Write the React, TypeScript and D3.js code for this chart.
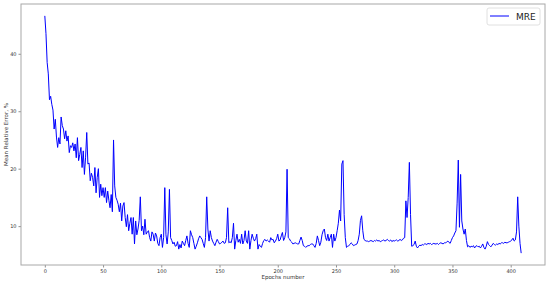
import React, { useEffect, useRef } from "react";
import * as d3 from "d3";

const mreValues: number[] = [
  // 0-9
  46.6, 43.5, 38.5, 36.5, 32.0, 32.6, 31.2, 30.2, 26.9, 28.6,
  // 10-19
  25.5, 23.7, 25.4, 24.3, 29.0, 27.5, 26.9, 25.2, 26.6, 24.8,
  // 20-29
  25.7, 22.8, 24.0, 23.7, 24.5, 23.1, 24.3, 21.9, 25.4, 21.4,
  // 30-39
  22.5, 23.7, 20.2, 23.1, 19.0, 22.0, 26.3, 20.8, 21.0, 17.9,
  // 40-49
  19.2, 18.5, 17.0, 20.2, 15.8, 18.5, 20.0, 15.0, 17.3, 15.3,
  // 50-59
  16.7, 15.0, 16.7, 14.1, 16.1, 14.5, 13.2, 15.5, 12.5, 25.0,
  // 60-69
  17.0, 15.0, 14.5, 13.8, 12.5, 14.0, 10.9, 13.5, 14.1, 11.5,
  // 70-79
  9.9, 12.0, 9.2, 10.5, 11.5, 8.6, 11.5, 6.9, 10.9, 8.5,
  // 80-89
  9.5, 11.0, 15.1, 9.2, 10.0, 8.5, 11.2, 8.6, 9.0, 9.2,
  // 90-99
  8.0, 7.4, 9.0, 8.6, 7.4, 8.8, 8.3, 7.0, 6.6, 8.0,
  // 100-109
  8.6, 6.3, 8.0, 16.7, 8.5, 6.9, 9.0, 16.4, 8.0, 7.5,
  // 110-119
  6.9, 7.2, 6.5, 6.6, 7.3, 6.0, 6.8, 6.2, 7.4, 7.0,
  // 120-129
  6.6, 7.5, 8.3, 7.0, 6.3, 9.2, 8.5, 8.0, 7.0, 6.0,
  // 130-139
  6.5, 7.1, 7.8, 8.3, 8.0, 7.7, 7.0, 6.3, 8.0, 15.1,
  // 140-149
  9.5, 7.4, 9.2, 8.0, 7.4, 7.0, 6.6, 7.2, 7.7, 7.3,
  // 150-159
  6.9, 7.0, 7.2, 7.4, 7.0, 7.1, 8.0, 13.2, 7.1, 7.3,
  // 160-169
  7.1, 8.0, 10.5, 6.0, 7.5, 8.6, 7.2, 7.7, 7.0, 8.6,
  // 170-179
  6.9, 7.5, 9.2, 7.4, 7.0, 9.2, 6.0, 7.5, 8.6, 7.9,
  // 180-189
  7.4, 7.8, 8.6, 6.0, 6.8, 6.5, 6.3, 7.0, 7.5, 7.7,
  // 190-199
  7.4, 7.6, 7.4, 7.2, 8.0, 7.6, 7.7, 7.1, 7.4, 7.8,
  // 200-209
  8.6, 7.4, 7.6, 8.3, 8.9, 7.5, 8.0, 9.0, 19.9, 8.0,
  // 210-219
  7.8, 7.4, 7.2, 6.9, 7.0, 7.1, 7.0, 6.9, 6.9, 7.5,
  // 220-229
  8.1, 7.5, 6.6, 6.5, 6.3, 6.5, 6.6, 6.6, 6.8, 6.9,
  // 230-239
  6.9, 6.6, 6.3, 7.0, 8.3, 7.5, 6.6, 7.2, 8.5, 9.2,
  // 240-249
  9.5, 8.0, 7.5, 8.6, 7.4, 8.0, 8.6, 6.3, 8.6, 7.4,
  // 250-259
  8.0, 9.2, 10.5, 12.8, 10.9, 20.8, 21.4, 12.0, 8.0, 6.3,
  // 260-269
  6.5, 6.6, 6.8, 7.1, 6.9, 6.6, 6.7, 6.8, 6.9, 7.5,
  // 270-279
  8.6, 11.0, 11.8, 9.2, 7.7, 7.5, 7.4, 7.4, 7.3, 7.4,
  // 280-289
  7.5, 7.4, 7.3, 7.5, 7.4, 7.6, 7.4, 7.5, 7.3, 7.4,
  // 290-299
  7.5, 7.6, 7.4, 7.5, 7.7, 7.5, 7.4, 7.6, 7.3, 7.5,
  // 300-309
  7.4, 7.5, 7.6, 7.4, 7.5, 7.7, 7.5, 7.6, 7.9, 8.0,
  // 310-319
  14.4, 11.5, 15.0, 21.1, 12.0, 6.5, 6.6, 6.8, 7.4, 6.5,
  // 320-329
  6.2, 6.5, 6.7, 6.6, 6.8, 6.7, 6.9, 6.9, 6.8, 7.0,
  // 330-339
  6.9, 7.0, 6.8, 6.9, 7.0, 6.9, 6.9, 7.0, 6.8, 7.0,
  // 340-349
  7.1, 7.0, 6.9, 7.1, 7.1, 7.2, 7.4, 7.2, 7.0, 7.5,
  // 350-359
  8.0, 8.3, 8.8, 9.2, 14.0, 21.5, 9.8, 19.0, 10.9, 9.5,
  // 360-369
  8.6, 9.5, 7.5, 6.4, 6.6, 6.3, 6.5, 6.4, 6.6, 6.2,
  // 370-379
  6.5, 6.6, 6.4, 6.5, 6.2, 6.5, 6.9, 6.3, 6.0, 6.5,
  // 380-389
  7.3, 6.8, 6.6, 6.4, 6.7, 7.0, 6.8, 6.7, 6.9, 6.8,
  // 390-399
  7.0, 6.9, 7.1, 7.1, 7.0, 7.2, 7.1, 7.1, 7.2, 7.3,
  // 400-409
  7.4, 7.6, 7.9, 7.4, 7.6, 9.0, 15.1, 10.0, 7.0, 5.3,
];

const epochs: number[] = mreValues.map((_, i) => i);
const xTicks: number[] = [0, 50, 100, 150, 200, 250, 300, 350, 400];
const yTicks: number[] = [10, 20, 30, 40];
const seriesName = "MRE";
const xLabel = "Epochs number";
const yLabel = "Mean Relative Error, %";

const W = 550;
const H = 283;
const M = { left: 21, top: 4, right: 5, bottom: 18 };

export default function App() {
  const ref = useRef<SVGSVGElement>(null);

  useEffect(() => {
    const svg = d3.select(ref.current);
    svg.selectAll("*").remove();

    const x0 = d3.min(epochs)!;
    const x1 = d3.max(epochs)!;
    const xm = (x1 - x0) * 0.05;
    const y0 = d3.min(mreValues)!;
    const y1 = d3.max(mreValues)!;
    const ym = (y1 - y0) * 0.05;

    const x = d3.scaleLinear().domain([x0 - xm, x1 + xm]).range([M.left, W - M.right]);
    const y = d3.scaleLinear().domain([y0 - ym, y1 + ym]).range([H - M.bottom, M.top]);

    const font = "DejaVu Sans, sans-serif";

    // line
    const line = d3
      .line<number>()
      .x((_, i) => x(epochs[i]))
      .y((d) => y(d));
    svg
      .append("path")
      .datum(mreValues)
      .attr("d", line)
      .attr("fill", "none")
      .attr("stroke", "#0000ff")
      .attr("stroke-width", 1)
      .attr("stroke-linejoin", "round");

    // x axis
    const gx = svg
      .append("g")
      .attr("transform", `translate(0,${H - M.bottom})`)
      .call(d3.axisBottom(x).tickValues(xTicks).tickSize(2.5).tickPadding(2).tickFormat(d3.format("d")));
    gx.select(".domain").remove();
    gx.selectAll("line").attr("stroke", "#444").attr("stroke-width", 0.6);
    gx.selectAll("text").attr("font-family", font).attr("font-size", 5).attr("fill", "#333");

    // y axis
    const gy = svg
      .append("g")
      .attr("transform", `translate(${M.left},0)`)
      .call(d3.axisLeft(y).tickValues(yTicks).tickSize(2.5).tickPadding(2).tickFormat(d3.format("d")));
    gy.select(".domain").remove();
    gy.selectAll("line").attr("stroke", "#444").attr("stroke-width", 0.6);
    gy.selectAll("text").attr("font-family", font).attr("font-size", 5).attr("fill", "#333");

    // frame
    svg
      .append("rect")
      .attr("x", M.left)
      .attr("y", M.top)
      .attr("width", W - M.left - M.right)
      .attr("height", H - M.top - M.bottom)
      .attr("fill", "none")
      .attr("stroke", "#a8a8a8")
      .attr("stroke-width", 1);

    // axis labels
    svg
      .append("text")
      .attr("x", (M.left + W - M.right) / 2)
      .attr("y", H - 4)
      .attr("text-anchor", "middle")
      .attr("font-family", font)
      .attr("font-size", 5.5)
      .attr("fill", "#333")
      .text(xLabel);
    svg
      .append("text")
      .attr("transform", `translate(8,${(M.top + H - M.bottom) / 2}) rotate(-90)`)
      .attr("text-anchor", "middle")
      .attr("font-family", font)
      .attr("font-size", 5.5)
      .attr("fill", "#333")
      .text(yLabel);

    // legend
    const lg = svg.append("g");
    lg.append("rect")
      .attr("x", 487)
      .attr("y", 8)
      .attr("width", 53)
      .attr("height", 17)
      .attr("rx", 2)
      .attr("fill", "white")
      .attr("fill-opacity", 0.8)
      .attr("stroke", "#d8d8d8")
      .attr("stroke-width", 0.8);
    lg.append("line")
      .attr("x1", 490)
      .attr("x2", 509)
      .attr("y1", 16)
      .attr("y2", 16)
      .attr("stroke", "#0000ff")
      .attr("stroke-width", 1);
    lg.append("text")
      .attr("x", 516)
      .attr("y", 19.5)
      .attr("font-family", font)
      .attr("font-size", 9)
      .attr("fill", "#222")
      .text(seriesName);
  }, []);

  return (
    <svg
      ref={ref}
      width={W}
      height={H}
      style={{ position: "absolute", left: 0, top: 0, background: "white" }}
    />
  );
}
